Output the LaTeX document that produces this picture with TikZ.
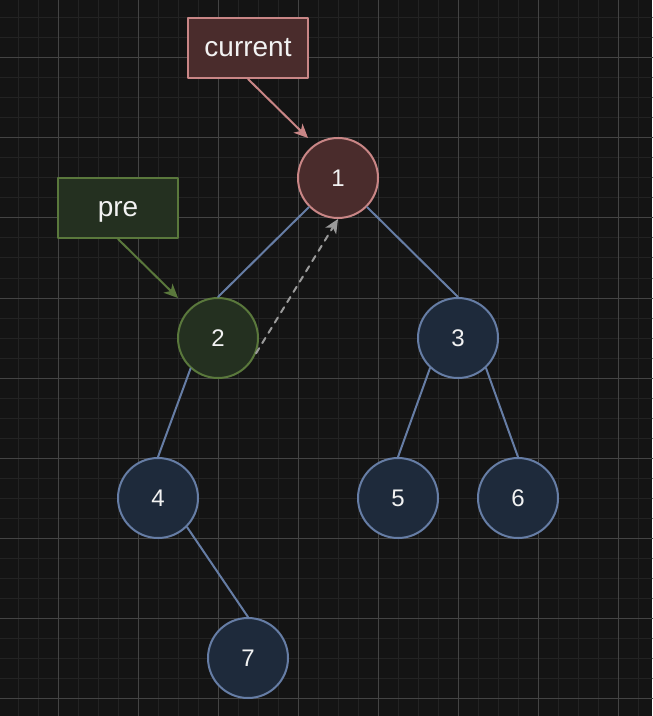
\documentclass[tikz,border=0pt]{standalone}
\usepackage{fontspec}
\setmainfont{Liberation Sans}
\usetikzlibrary{arrows.meta}
\definecolor{bgcol}{HTML}{141414}
\definecolor{minorcol}{HTML}{232323}
\definecolor{majorcol}{HTML}{444444}
\definecolor{nodefill}{HTML}{1E2A3B}
\definecolor{nodeline}{HTML}{667DA5}
\definecolor{curfill}{HTML}{4A2C2C}
\definecolor{curline}{HTML}{C98686}
\definecolor{prefill}{HTML}{243020}
\definecolor{preline}{HTML}{5A783C}
\definecolor{txtcol}{HTML}{F2F2F2}
\definecolor{backcol}{HTML}{9A9A9A}
\begin{document}
\begin{tikzpicture}[x=0.75pt,y=-0.75pt,line cap=round,line join=round,
	tnode/.style={circle,draw=nodeline,fill=nodefill,line width=1.5pt,minimum size=60pt,inner sep=0pt,text=txtcol,font=\fontsize{18}{18}\selectfont},
	curnode/.style={tnode,draw=curline,fill=curfill},
	prenode/.style={tnode,draw=preline,fill=prefill},
	labelbox/.style={rectangle,line width=1.5pt,minimum width=90pt,minimum height=45pt,inner sep=0pt,text height=16pt,text depth=2.5pt,text=txtcol,font=\fontsize{21}{21}\selectfont},
	edge/.style={draw=nodeline,line width=1.5pt},
	pointer/.style={line width=1.5pt,-{Stealth[length=10.5pt,width=9.5pt,inset=3pt]}}]
	\fill[bgcol] (0,0) rectangle (652,716);
	\useasboundingbox (0,0) rectangle (652,716);
	\foreach \x in {18,38,...,638} \draw[minorcol,line width=0.75pt] (\x,0) -- (\x,716);
	\foreach \y in {18,38,...,698} \draw[minorcol,line width=0.75pt] (0,\y) -- (652,\y);
	\foreach \x in {58,138,...,618} \draw[majorcol,line width=0.75pt] (\x,0) -- (\x,716);
	\foreach \y in {58,138,...,698} \draw[majorcol,line width=0.75pt] (0,\y) -- (652,\y);
	\node[curnode] (n1) at (338,178) {1};
	\node[prenode] (n2) at (218,338) {2};
	\node[tnode] (n3) at (458,338) {3};
	\node[tnode] (n4) at (158,498) {4};
	\node[tnode] (n5) at (398,498) {5};
	\node[tnode] (n6) at (518,498) {6};
	\node[tnode] (n7) at (248,658) {7};
	\draw[edge] (n1.225) -- (n2.north);
	\draw[edge] (n1.315) -- (n3.north);
	\draw[edge] (n2.228) -- (n4.north);
	\draw[edge] (n3.227) -- (n5.north);
	\draw[edge] (n3.313) -- (n6.north);
	\draw[edge] (n4.315) -- (n7.north);
	\draw[pointer,backcol,dash pattern=on 4.5pt off 4.5pt] (n2.338) -- (n1.south);
	\node[labelbox,draw=curline,fill=curfill] (current) at (248,48) {current};
	\node[labelbox,draw=preline,fill=prefill] (pre) at (118,208) {pre};
	\coordinate (curtip) at (308,138);
	\coordinate (pretip) at (178,298);
	\draw[pointer,curline] (current.south) -- (curtip);
	\draw[pointer,preline] (pre.south) -- (pretip);
\end{tikzpicture}
\end{document}
